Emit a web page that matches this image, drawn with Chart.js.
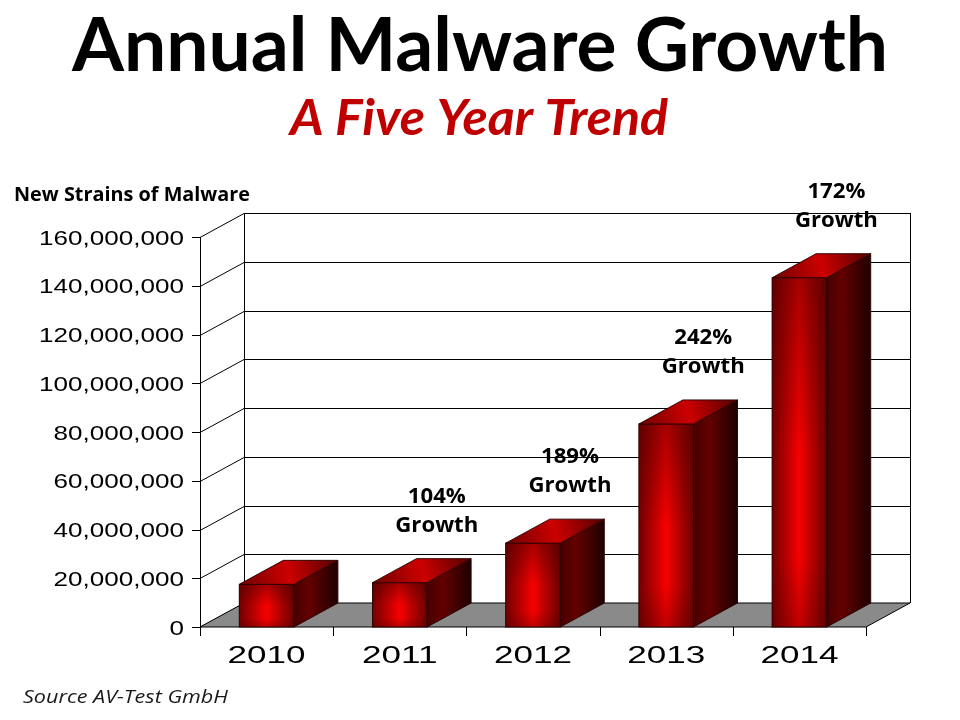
<!DOCTYPE html>
<html><head><meta charset="utf-8">
<script src="https://cdn.jsdelivr.net/npm/chart.js@4.4.1/dist/chart.umd.min.js"></script>
<style>html,body{margin:0;padding:0;background:#fff;overflow:hidden}canvas{display:block}</style>
</head><body>
<canvas id="c" width="960" height="720"></canvas>
<script>
// ---- data ----
const categories = ['2010', '2011', '2012', '2013', '2014'];
const newStrains = [17500000, 18200000, 34400000, 83300000, 143300000];
const growthLabels = ['', '104%', '189%', '242%', '172%'];
const yMin = 0;
const yMax = 160000000;
const yStep = 20000000;

const titleText = 'Annual Malware Growth';
const subtitleText = 'A Five Year Trend';
const yTitleText = 'New Strains of Malware';
const sourceText = 'Source AV-Test GmbH';

// ---- layout constants ----
const DX = 44, DY = -24;
const CAL = 'Lato, "Open Sans", sans-serif';
const OPS = '"Open Sans", Lato, sans-serif';
const ARI = '"Liberation Sans", Arial, sans-serif';
const nf = new Intl.NumberFormat('en-US');

function scaleFor(ctx, font, sample, target) {
  ctx.font = font;
  return target / ctx.measureText(sample).width;
}
function drawText(ctx, text, x, y, font, color, align, sx, baseline) {
  ctx.save();
  ctx.font = font;
  ctx.fillStyle = color;
  ctx.textAlign = align;
  ctx.textBaseline = baseline || 'alphabetic';
  ctx.translate(x, y);
  ctx.scale(sx, 1);
  ctx.fillText(text, 0, 0);
  ctx.restore();
}
function poly(ctx, pts) {
  ctx.beginPath();
  ctx.moveTo(pts[0][0], pts[0][1]);
  for (let i = 1; i < pts.length; i++) ctx.lineTo(pts[i][0], pts[i][1]);
  ctx.closePath();
}

const threeD = {
  id: 'threeD',
  beforeDatasetsDraw(chart) {
    const { ctx, chartArea: a, scales: { x, y } } = chart;
    const y0 = y.getPixelForValue(yMin);
    const yT = y.getPixelForValue(yMax);
    ctx.save();
    ctx.strokeStyle = '#000';
    ctx.lineWidth = 1;
    // back wall gridlines + side wall diagonals
    y.ticks.forEach(t => {
      const py = Math.round(y.getPixelForValue(t.value)) + 0.5;
      ctx.beginPath();
      ctx.moveTo(a.left + DX, py + DY);
      ctx.lineTo(a.right + DX, py + DY);
      ctx.stroke();
      ctx.beginPath();
      ctx.moveTo(a.left, py);
      ctx.lineTo(a.left + DX, py + DY);
      ctx.stroke();
    });
    // back wall verticals
    [a.left + DX, a.right + DX].forEach(px => {
      ctx.beginPath();
      ctx.moveTo(Math.round(px) + 0.5, yT + DY);
      ctx.lineTo(Math.round(px) + 0.5, y0 + DY);
      ctx.stroke();
    });
    // floor
    poly(ctx, [[a.left, y0], [a.right, y0], [a.right + DX, y0 + DY], [a.left + DX, y0 + DY]]);
    ctx.fillStyle = '#8a8a8a';
    ctx.fill();
    ctx.stroke();
    // front y axis
    ctx.beginPath();
    ctx.moveTo(Math.round(a.left) + 0.5, yT);
    ctx.lineTo(Math.round(a.left) + 0.5, y0);
    ctx.stroke();
    y.ticks.forEach(t => {
      const py = Math.round(y.getPixelForValue(t.value)) + 0.5;
      ctx.beginPath();
      ctx.moveTo(a.left - 8, py);
      ctx.lineTo(a.left, py);
      ctx.stroke();
    });
    // x ticks at category boundaries
    const cw = x.getPixelForValue(1) - x.getPixelForValue(0);
    for (let i = 0; i <= categories.length; i++) {
      const px = Math.round(x.getPixelForValue(0) - cw / 2 + i * cw) + 0.5;
      ctx.beginPath();
      ctx.moveTo(px, y0);
      ctx.lineTo(px, y0 + 9);
      ctx.stroke();
    }
    // y tick labels
    const tf = '21px ' + ARI;
    const tsx = scaleFor(ctx, tf, nf.format(yMax), 145);
    y.ticks.forEach(t => {
      const py = y.getPixelForValue(t.value);
      drawText(ctx, nf.format(t.value), a.left - 16, py + 7.5, tf, '#000', 'right', tsx);
    });
    // x category labels
    const xf = '24px ' + ARI;
    const xsx = scaleFor(ctx, xf, categories[0], 78);
    categories.forEach((c, i) => {
      drawText(ctx, c, x.getPixelForValue(i), y0 + 36, xf, '#000', 'center', xsx);
    });
    ctx.restore();
  },
  afterDatasetsDraw(chart) {
    const { ctx } = chart;
    const meta = chart.getDatasetMeta(0);
    ctx.save();
    ctx.lineWidth = 1;
    ctx.strokeStyle = 'rgba(45,0,0,0.95)';
    meta.data.forEach(el => {
      const l = el.x - el.width / 2, r = el.x + el.width / 2;
      const top = el.y, base = el.base;
      // front face
      const gf = ctx.createLinearGradient(l, 0, r, 0);
      gf.addColorStop(0, '#720000');
      gf.addColorStop(0.5, '#f80000');
      gf.addColorStop(1, '#6a0000');
      ctx.fillStyle = gf;
      ctx.fillRect(l, top, r - l, base - top);
      const gv = ctx.createLinearGradient(0, top, 0, base);
      gv.addColorStop(0, 'rgba(70,0,0,0.45)');
      gv.addColorStop(0.5, 'rgba(70,0,0,0)');
      gv.addColorStop(0.8, 'rgba(70,0,0,0)');
      gv.addColorStop(1, 'rgba(70,0,0,0.3)');
      ctx.fillStyle = gv;
      ctx.fillRect(l, top, r - l, base - top);
      ctx.strokeRect(l, top, r - l, base - top);
      // side face
      poly(ctx, [[r, top], [r + DX, top + DY], [r + DX, base + DY], [r, base]]);
      const gs = ctx.createLinearGradient(r, 0, r + DX, 0);
      gs.addColorStop(0, '#460000');
      gs.addColorStop(0.35, '#640000');
      gs.addColorStop(1, '#1e0000');
      ctx.fillStyle = gs;
      ctx.fill();
      ctx.stroke();
      // top face
      poly(ctx, [[l, top], [r, top], [r + DX, top + DY], [l + DX, top + DY]]);
      const gt = ctx.createLinearGradient(l, top, r + DX, top + DY);
      gt.addColorStop(0, '#700000');
      gt.addColorStop(0.5, '#cc0000');
      gt.addColorStop(1, '#520000');
      ctx.fillStyle = gt;
      ctx.fill();
      ctx.stroke();
    });
    // growth annotations
    const af = 'bold 21px ' + OPS;
    const asx = scaleFor(ctx, af, 'Growth', 83);
    meta.data.forEach((el, i) => {
      if (!growthLabels[i]) return;
      const cx = el.x + 37;
      drawText(ctx, growthLabels[i], cx, el.y - 80, af, '#000', 'center', asx);
      drawText(ctx, 'Growth', cx, el.y - 51, af, '#000', 'center', asx);
    });
    ctx.restore();
  },
  afterDraw(chart) {
    const { ctx } = chart;
    const tf = 'bold 75px ' + CAL;
    drawText(ctx, titleText, 72, 71, tf, '#000', 'left', scaleFor(ctx, tf, titleText, 816));
    const sf = 'italic bold 49px ' + CAL;
    drawText(ctx, subtitleText, 290, 135, sf, '#c00000', 'left', scaleFor(ctx, sf, subtitleText, 378));
    const yf = 'bold 19px ' + OPS;
    drawText(ctx, yTitleText, 14, 201, yf, '#000', 'left', scaleFor(ctx, yf, yTitleText, 236));
    const of = 'italic 19px ' + OPS;
    drawText(ctx, sourceText, 23, 703, of, '#1a1a1a', 'left', scaleFor(ctx, of, sourceText, 205));
  }
};

new Chart(document.getElementById('c'), {
  type: 'bar',
  data: {
    labels: categories,
    datasets: [{
      label: yTitleText,
      data: newStrains,
      backgroundColor: '#c00000',
      borderWidth: 0,
      categoryPercentage: 1,
      barPercentage: 0.41
    }]
  },
  options: {
    responsive: false,
    animation: false,
    devicePixelRatio: 1,
    layout: { padding: { left: 200, right: 94, top: 237, bottom: 93 } },
    plugins: { legend: { display: false }, tooltip: { enabled: false }, title: { display: false } },
    scales: {
      x: { display: false, grid: { display: false } },
      y: { display: false, min: yMin, max: yMax, ticks: { stepSize: yStep } }
    }
  },
  plugins: [threeD]
});
</script>
</body></html>
